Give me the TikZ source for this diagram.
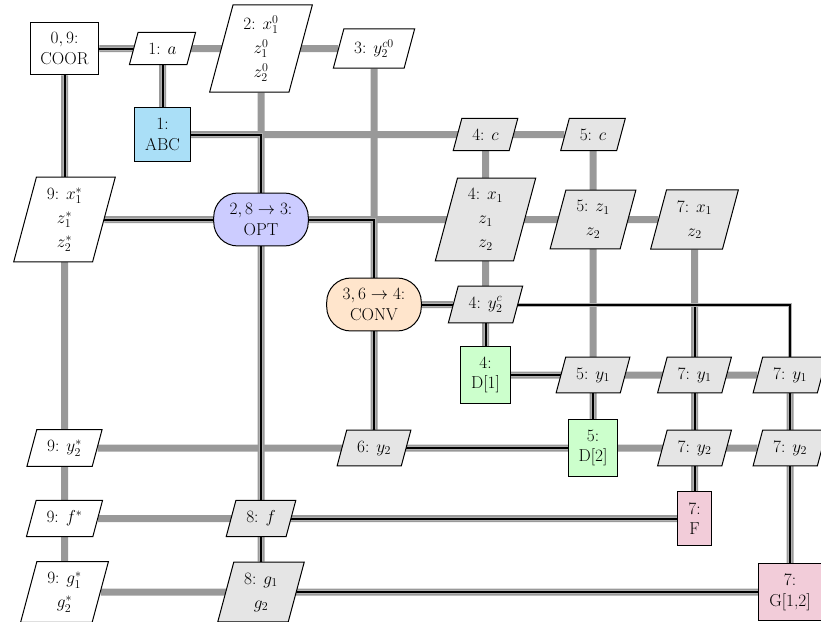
\documentclass[tikz,border=0pt]{standalone}
\usetikzlibrary{shapes.geometric}
\pgfdeclarelayer{data}
\pgfdeclarelayer{proc}
\pgfsetlayers{data,proc,main}
\definecolor{abcblue}{RGB}{170,223,247}
\tikzset{
  base/.style={font=\fontsize{17.28}{20.7}\selectfont, inner sep=10.4pt, line width=1pt, draw=black, align=center},
  procbox/.style={base, rectangle, fill=white},
  funcbox/.style={base, rectangle, fill=abcblue},
  optbox/.style={base, rectangle, rounded corners=24pt, fill=blue!20, inner xsep=16pt},
  convbox/.style={optbox, fill=orange!20},
  anbox/.style={base, rectangle, fill=green!20},
  fnbox/.style={base, rectangle, fill=purple!20},
  datain/.style={base, font=\fontsize{17.28}{24}\selectfont, trapezium, trapezium left angle=75, trapezium right angle=105, trapezium stretches body, fill=white},
  datagray/.style={datain, fill=black!10},
  dataline/.style={draw=black!40, line width=7pt},
  procline/.style={draw=black, line width=2pt, preaction={draw=black!30, line width=4pt}},
}
\begin{document}
\begin{tikzpicture}[x=1pt, y=-1pt]
\useasboundingbox (0,0) rectangle (821,621);
% nodes
\node[procbox] (COOR) at (64.5,48.5) {$0, 9$:\\COOR};
\node[datain] (da) at (162.5,48.5) {1: $a$};
\node[datain] (dx0) at (261,48.5) {2: $x_1^0$\\$z_1^0$\\$z_2^0$};
\node[datain] (dy0) at (374,48.5) {3: $y_2^{c0}$};
\node[funcbox] (ABC) at (162.5,134.5) {1:\\ABC};
\node[datagray] (dc4) at (485.5,134.5) {4: $c$};
\node[datagray] (dc5) at (593,134.5) {5: $c$};
\node[datain] (dx9) at (64.5,219.5) {9: $x_1^*$\\$z_1^*$\\$z_2^*$};
\node[optbox] (OPT) at (261,219.5) {$2, 8 \to 3$:\\OPT};
\node[datagray] (dx4) at (485.5,219.5) {4: $x_1$\\$z_1$\\$z_2$};
\node[datagray] (dz5) at (593,219.5) {5: $z_1$\\$z_2$};
\node[datagray] (dx7) at (694.5,219.5) {7: $x_1$\\$z_2$};
\node[convbox] (CONV) at (374,304.5) {$3, 6 \to 4$:\\CONV};
\node[datagray] (dyc) at (485.5,304.5) {4: $y_2^c$};
\node[anbox] (D1) at (485.5,375) {4:\\D[1]};
\node[datagray] (dy1a) at (593,375) {5: $y_1$};
\node[datagray] (dy1b) at (694.5,375) {7: $y_1$};
\node[datagray] (dy1c) at (790,375) {7: $y_1$};
\node[datain] (dy2s) at (64.5,448) {9: $y_2^*$};
\node[datagray] (dy2a) at (374,448) {6: $y_2$};
\node[anbox] (D2) at (593,448) {5:\\D[2]};
\node[datagray] (dy2b) at (694.5,448) {7: $y_2$};
\node[datagray] (dy2c) at (790,448) {7: $y_2$};
\node[datain] (dfs) at (64.5,518.5) {9: $f^*$};
\node[datagray] (df) at (261,518.5) {8: $f$};
\node[fnbox] (F) at (694.5,518.5) {7:\\F};
\node[datain] (dgs) at (64.5,592) {9: $g_1^*$\\$g_2^*$};
\node[datagray] (dg) at (261,592) {8: $g_1$\\$g_2$};
\node[fnbox] (G) at (790,592) {7:\\G[1,2]};
% data lines
\begin{pgfonlayer}{data}
\draw[dataline] (COOR) -- (dy0);
\draw[dataline] (COOR) -- (dgs);
\draw[dataline] (da) -- (ABC);
\draw[dataline] (dx0) -- (dg);
\draw[dataline] (dy0) -- (dy2a);
\draw[dataline] (ABC) -- (dc5);
\draw[dataline] (dc4) -- (D1);
\draw[dataline] (dc5) -- (D2);
\draw[dataline] (dx9) -- (dx7);
\draw[dataline] (dx7) -- (F);
\draw[dataline] (CONV) -- (dyc);
\draw[dataline] (D1) -- (dy1c);
\draw[dataline] (dy1c) -- (G);
\draw[dataline] (dy2s) -- (dy2c);
\draw[dataline] (dfs) -- (F);
\draw[dataline] (dgs) -- (G);
\end{pgfonlayer}
% process lines
\begin{pgfonlayer}{proc}
\draw[procline] (COOR) -| (ABC);
\draw[procline] (ABC) -| (OPT);
\draw[procline] (OPT) -| (CONV);
\draw[procline] (CONV) -| (D1);
\draw[procline] (D1) -| (D2);
\draw[procline] (D2) -| (CONV);
\draw[procline] (CONV) -| (F);
\draw[procline] (CONV) -| (G);
\draw[procline] (F) -| (OPT);
\draw[procline] (G) -| (OPT);
\draw[procline] (OPT) -| (COOR);
\end{pgfonlayer}
\end{tikzpicture}
\end{document}
